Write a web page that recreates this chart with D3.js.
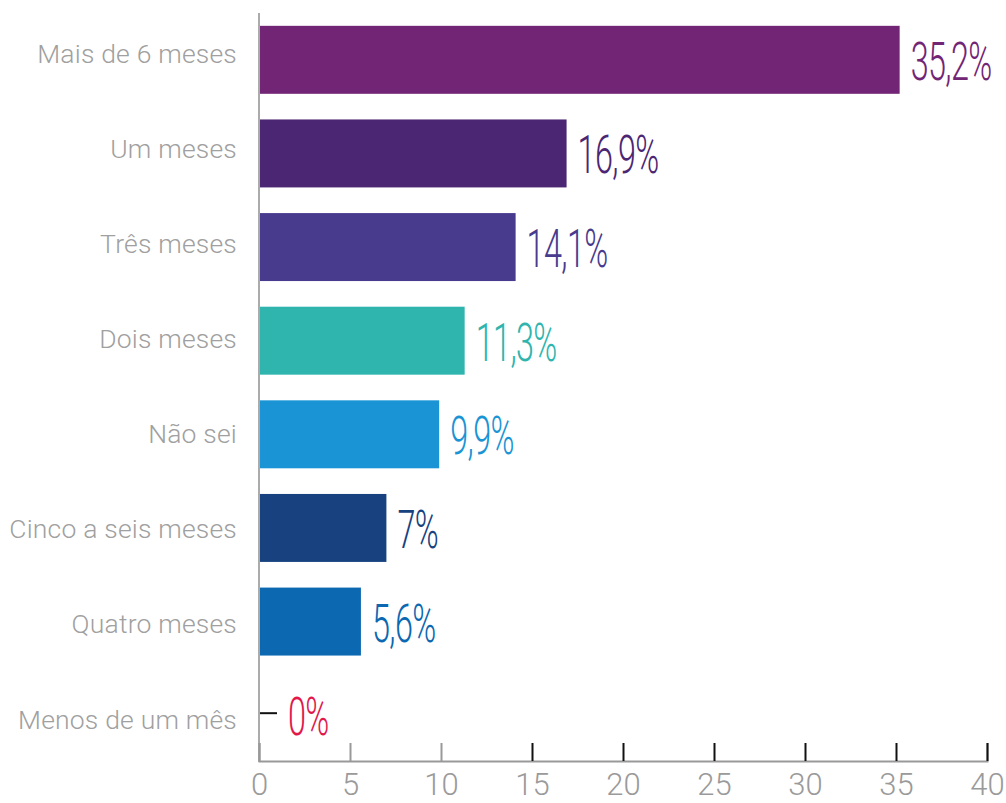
<!DOCTYPE html>
<html>
<head>
<meta charset="utf-8">
<script src="https://cdn.jsdelivr.net/npm/d3@7"></script>
<style>
  html, body { margin: 0; padding: 0; background: #fff; }
  svg { display: block; }
</style>
</head>
<body>
<svg id="chart" width="1006" height="803"></svg>
<script>
// Categories, top to bottom
const categories = [
  "Mais de 6 meses",
  "Um meses",
  "Três meses",
  "Dois meses",
  "Não sei",
  "Cinco a seis meses",
  "Quatro meses",
  "Menos de um mês"
];
// Share of answers (%)
const values = [35.2, 16.9, 14.1, 11.3, 9.9, 7, 5.6, 0];
const valueLabels = ["35,2%", "16,9%", "14,1%", "11,3%", "9,9%", "7%", "5,6%", "0%"];
const colors = ["#722475", "#4b2672", "#483b8e", "#2fb5ae", "#1a94d4", "#17427f", "#0b68b1", "#e2184c"];
const xTicks = [0, 5, 10, 15, 20, 25, 30, 35, 40];

const svg = d3.select("#chart");

const x = d3.scaleLinear().domain([0, 40]).range([259, 987]);
const y = d3.scaleBand().domain(categories).range([13, 762])
  .paddingInner(0.274).paddingOuter(0.137);
// category text sits on its own evenly spaced rows
const yLabel = d3.scalePoint().domain(categories).range([53, 719]);

// bars
svg.append("g").selectAll("rect")
  .data(values)
  .join("rect")
  .attr("x", x(0))
  .attr("y", (d, i) => y(categories[i]))
  .attr("width", d => x(d) - x(0))
  .attr("height", y.bandwidth())
  .attr("fill", (d, i) => colors[i]);

// marker for zero-valued rows
const zeroLen = 18;
svg.append("g").selectAll("line")
  .data(values.map((v, i) => ({ v, i })).filter(d => d.v === 0))
  .join("line")
  .attr("x1", x(0)).attr("x2", x(0) + zeroLen)
  .attr("y1", d => y(categories[d.i]) + y.bandwidth() / 2 - 2)
  .attr("y2", d => y(categories[d.i]) + y.bandwidth() / 2 - 2)
  .attr("stroke", "#111").attr("stroke-width", 2);

// value labels (condensed)
svg.append("g").selectAll("text")
  .data(values)
  .join("text")
  .attr("transform", (d, i) => {
    const tx = x(d) + (d === 0 ? zeroLen : 0) + 11;
    const ty = y(categories[i]) + y.bandwidth() / 2 + 20;
    return `translate(${tx},${ty}) scale(0.6,1)`;
  })
  .attr("font-family", "Roboto, sans-serif")
  .attr("font-weight", 300)
  .attr("font-size", 54)
  .attr("letter-spacing", "-1px")
  .attr("fill", (d, i) => colors[i])
  .text((d, i) => valueLabels[i]);

// category axis
svg.append("g").selectAll("text")
  .data(categories)
  .join("text")
  .attr("x", 237)
  .attr("y", d => yLabel(d))
  .attr("dy", "0.36em")
  .attr("text-anchor", "end")
  .attr("font-family", "Roboto, sans-serif")
  .attr("font-weight", 300)
  .attr("font-size", 26.5)
  .attr("letter-spacing", "0.2px")
  .attr("fill", "#a0a0a0")
  .text(d => d);

svg.append("line")
  .attr("x1", x(0)).attr("x2", x(0))
  .attr("y1", 13).attr("y2", 762)
  .attr("stroke", "#ababab").attr("stroke-width", 2);

// value axis
const xAxis = svg.append("g")
  .attr("transform", "translate(0,761)")
  .call(d3.axisBottom(x).tickValues(xTicks).tickSize(-18).tickPadding(0).tickFormat(d3.format("d")));
xAxis.select(".domain").attr("stroke", "#999").attr("stroke-width", 2);
xAxis.selectAll(".tick line")
  .attr("stroke", d => d <= 10 ? "#999" : "#111")
  .attr("stroke-width", 2);
xAxis.selectAll(".tick text")
  .attr("y", 34)
  .attr("dy", 0)
  .attr("font-family", "Roboto, sans-serif")
  .attr("font-weight", 300)
  .attr("font-size", 31)
  .attr("fill", "#9a9a9a");
</script>
</body>
</html>
